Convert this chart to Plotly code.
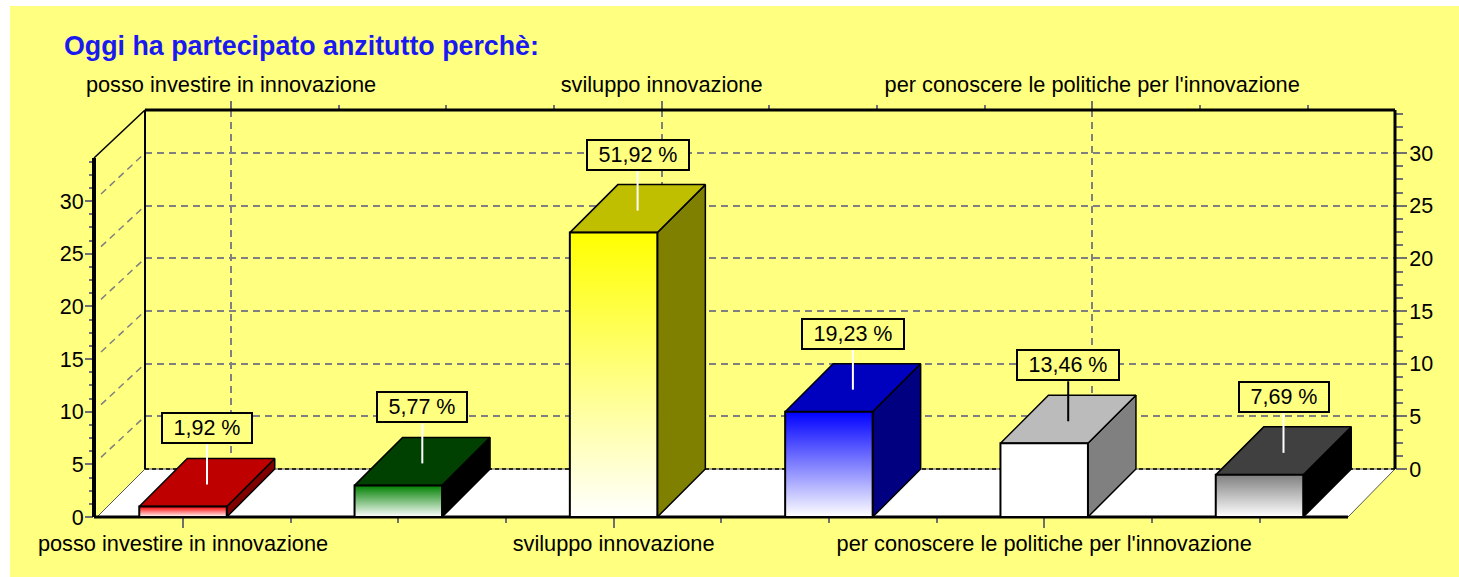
import plotly.graph_objects as go

# ---- data ----
categories = ["posso investire in innovazione", "", "sviluppo innovazione", "",
              "per conoscere le politiche per l'innovazione", ""]
values = [1, 3, 27, 10, 7, 4]
percent_labels = ["1,92 %", "5,77 %", "51,92 %", "19,23 %", "13,46 %", "7,69 %"]
axis_ticks = [0, 5, 10, 15, 20, 25, 30]
labelled_positions = [1, 3, 5]
minor_x_ticks = [1.5, 2, 2.5, 3.5, 4, 4.5, 5.5, 6, 6.5]

# ---- styles ----
front_colors = ["#FF0000", "#008000", "#FFFF00", "#0000FF", "#FFFFFF", "#808080"]
top_colors = ["#BF0000", "#004000", "#BFBF00", "#0000BF", "#BBBBBB", "#404040"]
side_colors = ["#800000", "#000000", "#808000", "#000080", "#808080", "#000000"]
stem_colors = ["white", "white", "white", "white", "black", "white"]
BG = "#FFFF80"
GRID = "#808080"
TICK = "#707070"
FONT = "Liberation Sans, Arial, sans-serif"
FS = 21.5
FS_X = 21.75

W, H = 1459, 577
X0, XS = 183.0, 215.3     # pixel of category 1, pixels per category
Y0, YS = 517.0, 10.533    # pixel of value 0, pixels per unit
TOP = 34.08
BAR = 87.5 / XS / 2
DX = 48 / XS
DY = 48 / YS
STEM = 40 / YS
DASH = "7px,5px"


def cat(px):
    return 1 + (px - X0) / XS


def dom(a, b, size):
    return [a / size, b / size]


fig = go.Figure()
idx = list(range(1, len(values) + 1))

# invisible anchors so each axis pair is drawn
for ax, ay in (("x", "y"), ("x2", "y2")):
    fig.add_trace(go.Scatter(x=idx, y=values, xaxis=ax, yaxis=ay, mode="markers",
                             marker=dict(size=1, opacity=0), hoverinfo="skip", showlegend=False))


def poly(xs, ys, fill=None, line="black", lw=1.5, dash=None, **kw):
    fig.add_trace(go.Scatter(
        x=xs, y=ys, xaxis="x3", yaxis="y3", mode="lines",
        line=dict(color=line, width=lw, dash=dash),
        fill="toself" if fill or kw else None, fillcolor=fill,
        hoverinfo="skip", showlegend=False, **kw))


L, LB, R, RB = cat(94), cat(145), cat(1348), cat(1395)

# floor
poly([cat(97), LB, RB, R, cat(97)], [0, DY, DY, 0, 0], fill="white", line="#555555", lw=1)
# back floor edge
poly([LB, RB], [DY, DY], line="black", lw=1.5, dash="4px,3px")
# side wall diagonals
for v in axis_ticks[1:]:
    poly([L + 7 / XS, LB], [v + 7 / YS, v + DY], line=GRID, lw=1.5, dash=DASH)
poly([L, LB], [TOP, TOP + DY], line="black", lw=1.5)
# frame lines
poly([LB, LB], [DY, TOP + DY], line="black", lw=2)
poly([LB, RB], [TOP + DY, TOP + DY], line="black", lw=3)
poly([RB, RB], [DY, TOP + DY], line="black", lw=3)
poly([L, L], [0, TOP], line="black", lw=4)
poly([L, R], [0, 0], line="black", lw=3)

# bars
for i, v in enumerate(values):
    c = i + 1
    l, r = c - BAR, c + BAR
    poly([r, r + DX, r + DX, r, r], [0, DY, v + DY, v, 0], fill=side_colors[i], lw=1.5)
    poly([l, l + DX, r + DX, r, l], [v, v + DY, v + DY, v, v], fill=top_colors[i], lw=1.5)
    poly([l, r, r, l, l], [0, 0, v, v, 0], lw=2,
         fillgradient=dict(type="vertical",
                           colorscale=[[0, "#FFFFFF"], [1, front_colors[i]]]))
    stem_x = c + DX / 2
    ym = v + DY / 2 - 2 / YS
    poly([stem_x, stem_x], [ym, ym + STEM], line=stem_colors[i], lw=2)
    wide = len(percent_labels[i]) > 6
    fig.add_annotation(
        x=stem_x, y=ym + STEM, xref="x3", yref="y3", text=percent_labels[i], showarrow=False,
        xanchor="center", yanchor="bottom", width=98 if wide else 86, height=26, borderpad=1,
        bgcolor=BG, bordercolor="black", borderwidth=2, align="center",
        font=dict(family=FONT, size=FS, color="black"))

tick_font = dict(family=FONT, size=FS, color="black")
x_font = dict(family=FONT, size=FS_X, color="black")


def minor_y(n):
    return dict(dtick=1.25, tick0=0, ticks="outside", ticklen=n, tickcolor=TICK, tickwidth=1.5, showgrid=False)


def minor_x(n):
    return dict(tickmode="array", tickvals=minor_x_ticks, ticks="outside", ticklen=n,
                tickcolor=TICK, tickwidth=1.5, showgrid=False)


fig.update_layout(
    template="none",
    width=W, height=H, margin=dict(l=0, r=0, t=0, b=0, pad=0), autosize=False,
    paper_bgcolor="white", plot_bgcolor="rgba(0,0,0,0)", showlegend=False,
    shapes=[dict(type="rect", xref="paper", yref="paper", x0=10 / W, x1=1, y0=0, y1=1 - 6 / H,
                 fillcolor=BG, line_width=0, layer="below")],
    # back wall
    xaxis=dict(domain=dom(145, 1395, W), range=[cat(145 - 48), cat(1395 - 48)], anchor="y", side="top",
               automargin=False, tickmode="array", tickvals=labelled_positions,
               ticktext=[categories[p - 1] for p in labelled_positions],
               showline=False, ticks="outside", ticklen=8,
               tickcolor=TICK, tickwidth=1.5, tickangle=0, tickfont=x_font,
               showgrid=True, gridcolor=GRID, griddash=DASH, gridwidth=1.5, zeroline=False,
               minor=minor_x(4), fixedrange=True),
    yaxis=dict(domain=dom(577 - 469, 577 - 469 + TOP * YS, H), range=[0, TOP], anchor="x", side="right",
               automargin=False, tickmode="array", tickvals=axis_ticks, showline=False,
               ticks="outside", ticklen=11, ticklabelstandoff=-2, tickcolor=TICK, tickwidth=1.5,
               tickfont=tick_font,
               showgrid=True, gridcolor=GRID, griddash=DASH, gridwidth=1.5, zeroline=False,
               minor=minor_y(7), fixedrange=True),
    # front edge
    xaxis2=dict(domain=dom(94, 1348, W), range=[cat(94), cat(1348)], anchor="y2", side="bottom",
                automargin=False, tickmode="array", tickvals=labelled_positions,
                ticktext=[categories[p - 1] for p in labelled_positions],
                showline=False, ticks="outside", ticklen=10, ticklabelstandoff=-3,
                tickcolor=TICK, tickwidth=1.5, tickangle=0, tickfont=x_font,
                showgrid=False, zeroline=False, minor=minor_x(5), fixedrange=True),
    yaxis2=dict(domain=dom(577 - 517, 577 - 517 + TOP * YS, H), range=[0, TOP], anchor="x2", side="left",
                automargin=False, tickmode="array", tickvals=axis_ticks, showline=False,
                ticks="outside", ticklen=8, ticklabelstandoff=-3, tickcolor=TICK, tickwidth=1.5,
                tickfont=tick_font,
                showgrid=False, zeroline=False, minor=minor_y(4), fixedrange=True),
    # full-canvas scale for the solid marks
    xaxis3=dict(domain=[0, 1], range=[cat(0), cat(W)], anchor="y3", visible=False, fixedrange=True, automargin=False),
    yaxis3=dict(domain=[0, 1], range=[(Y0 - H) / YS, Y0 / YS], anchor="x3", visible=False, fixedrange=True, automargin=False),
    annotations=list(fig.layout.annotations) + [
        dict(text="<b>Oggi ha partecipato anzitutto perchè:</b>", xref="paper", yref="paper",
             x=62 / W, y=1 - 46 / H, xanchor="left", yanchor="middle", showarrow=False,
             font=dict(family=FONT, size=26.8, color="#1A1AF0"))],
)

fig.write_html("out.html", post_script="document.body.style.margin='0';",
               config=dict(displayModeBar=False))
